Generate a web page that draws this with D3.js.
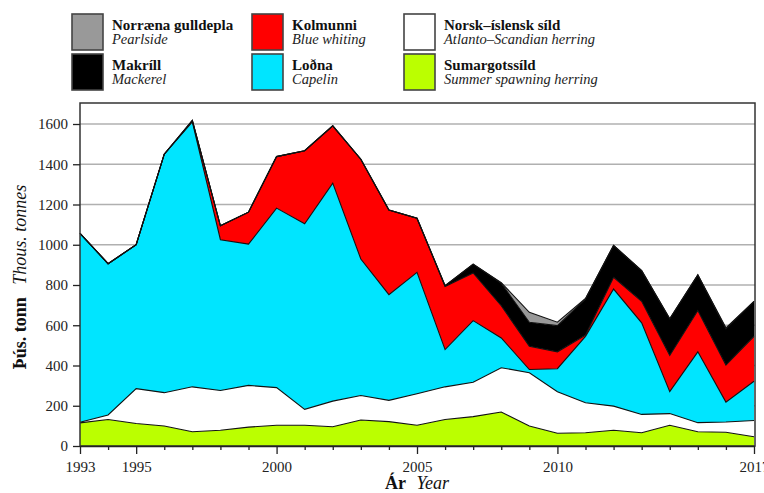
<!DOCTYPE html>
<html>
<head>
<meta charset="utf-8">
<script src="https://cdn.jsdelivr.net/npm/d3@7"></script>
<style>
  body { margin: 0; background: #fff; }
  svg { font-family: "Liberation Serif", "Times New Roman", serif; }
</style>
</head>
<body>
<svg id="chart" width="764" height="493"></svg>
<script>
// data (thousand tonnes)
var years = d3.range(1993, 2018);
var sumargotssild = [115,132,112,99,71,78,94,103,103,96,129,121,103,132,146,169,99,63,66,78,66,103,71,68,46];
var norskIslensk  = [3,22,173,166,223,198,207,187,79,127,122,106,157,162,171,220,265,207,149,120,91,58,45,51,81];
var lodna         = [939,752,715,1185,1316,749,702,892,922,1083,678,525,603,185,306,148,16,114,330,582,455,109,352,99,195];
var kolmunni      = [0,0,0,0,6,69,159,256,363,285,496,421,269,314,237,160,116,84,6,58,107,180,205,184,223];
var makrill       = [0,0,0,0,2,0,0,0,0,0,0,0,0,4,44,112,119,130,180,159,152,182,178,180,174];
var gulldepla     = [0,0,0,0,0,0,0,0,0,0,0,0,0,0,0,3,49,17,2,0,0,0,0,5,0];
var yTicks = [0,200,400,600,800,1000,1200,1400,1600];
var xLabels = [1993,1995,2000,2005,2010,2017];

var series = [
  { key: 'sumar', name: 'Sumargotssíld', en: 'Summer spawning herring', color: '#bbff00', values: sumargotssild },
  { key: 'norsk', name: 'Norsk\u2013íslensk síld', en: 'Atlanto\u2013Scandian herring', color: '#ffffff', values: norskIslensk },
  { key: 'lodna', name: 'Loðna', en: 'Capelin', color: '#00e5ff', values: lodna },
  { key: 'kolm', name: 'Kolmunni', en: 'Blue whiting', color: '#ff0000', values: kolmunni },
  { key: 'makr', name: 'Makríll', en: 'Mackerel', color: '#000000', values: makrill },
  { key: 'gull', name: 'Norræna gulldepla', en: 'Pearlside', color: '#999999', values: gulldepla }
];

var rows = years.map(function(y, i) {
  var r = { year: y };
  series.forEach(function(s) { r[s.key] = s.values[i]; });
  return r;
});

var svg = d3.select('#chart'),
    m = { left: 80, right: 755, top: 103, bottom: 446 };

var x = d3.scaleLinear().domain([1993, 2017]).range([m.left, m.right - 1]);
var y = d3.scaleLinear().domain([0, 1600]).range([m.bottom, 124]);

// grid
svg.append('g').selectAll('line')
  .data(yTicks.filter(function(d) { return d > 0; }))
  .enter().append('line')
  .attr('x1', m.left).attr('x2', m.right)
  .attr('y1', function(d) { return y(d); })
  .attr('y2', function(d) { return y(d); })
  .attr('stroke', '#b0b0b0').attr('stroke-width', 1.6);

// stacked areas
var stack = d3.stack().keys(series.map(function(s) { return s.key; }));
var layers = stack(rows);
var area = d3.area()
  .x(function(d) { return x(d.data.year); })
  .y0(function(d) { return y(d[0]); })
  .y1(function(d) { return y(d[1]); });
var topLine = d3.line()
  .x(function(d) { return x(d.data.year); })
  .y(function(d) { return y(d[1]); });

svg.append('g').selectAll('path')
  .data(layers)
  .enter().append('path')
  .attr('d', area)
  .attr('fill', function(d, i) { return series[i].color; });

svg.append('g').selectAll('path')
  .data(layers)
  .enter().append('path')
  .attr('d', topLine)
  .attr('fill', 'none')
  .attr('stroke', '#111')
  .attr('stroke-width', 1.1);

// frame
svg.append('rect')
  .attr('x', m.left).attr('y', m.top)
  .attr('width', m.right - m.left).attr('height', m.bottom - m.top)
  .attr('fill', 'none').attr('stroke', '#333').attr('stroke-width', 1.5);

// y axis
var yAxis = svg.append('g').attr('transform', 'translate(' + m.left + ',0)')
  .call(d3.axisLeft(y).tickValues(yTicks).tickSize(7).tickPadding(5)
    .tickSizeOuter(0).tickFormat(d3.format('d')));
yAxis.select('.domain').remove();
yAxis.selectAll('text').attr('font-size', 15).attr('fill', '#222').attr('font-family', 'Liberation Serif');
yAxis.selectAll('line').attr('stroke', '#222').attr('stroke-width', 1.3);

// x axis
var xAxis = svg.append('g').attr('transform', 'translate(0,' + m.bottom + ')')
  .call(d3.axisBottom(x).tickValues(years).tickSizeOuter(0)
    .tickFormat(function(d) { return xLabels.indexOf(d) >= 0 ? d : ''; }));
xAxis.select('.domain').attr('stroke', '#222').attr('stroke-width', 1.5);
xAxis.selectAll('line')
  .attr('stroke', '#222').attr('stroke-width', 1.3)
  .attr('y2', function(d) { return xLabels.indexOf(d) >= 0 ? 8 : 4; });
xAxis.selectAll('text').attr('font-size', 15).attr('fill', '#222')
  .attr('font-family', 'Liberation Serif').attr('y', 15);

// axis titles
var xt = svg.append('text').attr('x', 417).attr('y', 489).attr('text-anchor', 'middle')
  .attr('font-size', 18).attr('fill', '#111');
xt.append('tspan').attr('font-weight', 'bold').text('Ár');
xt.append('tspan').attr('font-style', 'italic').attr('dx', 6).text(' Year');

var yt = svg.append('text').attr('transform', 'translate(26,277) rotate(-90)')
  .attr('text-anchor', 'middle').attr('font-size', 18).attr('fill', '#111');
yt.append('tspan').attr('font-weight', 'bold').text('Þús. tonn');
yt.append('tspan').attr('font-style', 'italic').attr('dx', 8).text(' Thous. tonnes');

// legend
var legendOrder = [
  { s: series[5], col: 0, row: 0 }, { s: series[4], col: 0, row: 1 },
  { s: series[3], col: 1, row: 0 }, { s: series[2], col: 1, row: 1 },
  { s: series[1], col: 2, row: 0 }, { s: series[0], col: 2, row: 1 }
];
var colX = [72, 252, 404];
var lg = svg.append('g').selectAll('g')
  .data(legendOrder)
  .enter().append('g')
  .attr('transform', function(d) { return 'translate(' + colX[d.col] + ',' + (14 + d.row * 40) + ')'; });
lg.append('rect')
  .attr('width', 31).attr('height', 36)
  .attr('fill', function(d) { return d.s.color; })
  .attr('stroke', '#444').attr('stroke-width', 1.6);
lg.append('text').attr('x', 40).attr('y', 16)
  .attr('font-size', 15).attr('font-weight', 'bold').attr('fill', '#111')
  .text(function(d) { return d.s.name; });
lg.append('text').attr('x', 40).attr('y', 30)
  .attr('font-size', 14.5).attr('font-style', 'italic').attr('fill', '#222')
  .text(function(d) { return d.s.en; });
</script>
</body>
</html>
